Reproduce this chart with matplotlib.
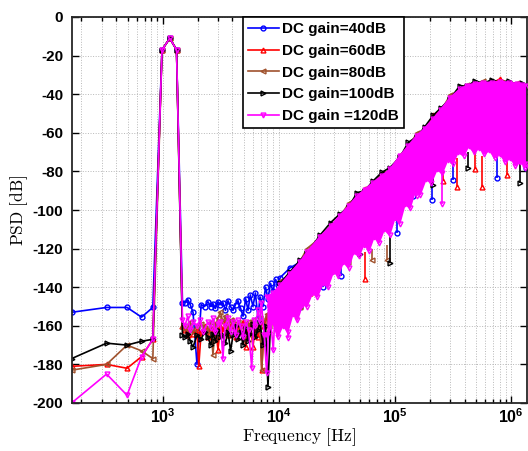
import numpy as np
import matplotlib
matplotlib.use('Agg')
import matplotlib.pyplot as plt

# FFT bins below 1.5 kHz (bin spacing ~165 Hz), signal tone at bin 7
f_low = [165, 330, 495, 660, 825, 990, 1155, 1320, 1485]
blue_low = [-153, -150.5, -150.5, -155.5, -150.5, -17, -11, -17, -148]
red_low = [-181, -180, -182, -176, -167, -17, -11, -17, -160]
brown_low = [-183, -180, -170, -173, -177, -17, -11, -17, -161]
black_low = [-177, -169, -170, -168, -167, -17, -11, -17, -165]
mag_low = [-200, -185, -196, -176, -167, -17, -11, -17, -157]

# 1.5k - 10k noise floor
blue_mid_f = [1560, 1650, 1730, 1830, 1980, 2150, 2300, 2460, 2600, 2715, 2850, 3000, 3150, 3310, 3480, 3660,
              3850, 4040, 4250, 4460, 4700, 4930, 5200, 5440, 5700, 6000, 6300, 6630, 6900, 7320, 7700, 8080,
              8500, 8920, 9400, 9850]
blue_mid = [-148, -146.5, -149, -153, -180, -149, -150, -147.5, -150, -148.5, -151, -147.5, -149, -148, -152, -147,
            -150, -152, -149, -147, -151, -155, -146, -152, -144, -150, -143, -156, -145, -150, -140, -146,
            -138, -142, -136, -139]
red_mid_f = [1560, 1650, 1730, 1830, 1980, 2050, 2150, 2300, 2460, 2600, 2715, 2850, 3000, 3150, 3310, 3480,
             3660, 3850, 4040, 4250, 4460, 4700, 4930, 5200, 5440, 5700, 6000, 6300, 6630, 6900, 7140, 7500,
             7900, 8300, 8920, 9400, 9850]
red_mid = [-162, -165, -160, -164, -162, -181, -163, -160, -166, -161, -164, -159, -172.5, -160, -163, -158,
           -165, -160, -157, -166, -160, -163, -158, -171, -162, -159, -171, -160, -166, -158, -183, -160,
           -155, -162, -152, -156, -148]
brown_mid_f = [1560, 1650, 1730, 1830, 1980, 2150, 2300, 2460, 2600, 2715, 2850, 3000, 3150, 3310, 3480, 3660,
               3850, 4040, 4250, 4460, 4700, 4930, 5200, 5440, 5700, 6000, 6300, 6630, 6900, 7140, 7500, 7900,
               8300, 8920, 9400, 9850]
brown_mid = [-160, -162, -158, -163, -160, -159, -161, -164, -158, -175, -160, -156, -153, -158, -155, -162,
             -157, -160, -164, -158, -162, -167, -160, -158, -165, -157, -162, -160, -156, -183, -158, -154,
             -160, -150, -155, -146]
black_mid_f = [1560, 1650, 1730, 1830, 1980, 2150, 2300, 2460, 2600, 2715, 2850, 3000, 3150, 3310, 3480, 3660,
               3850, 4040, 4250, 4460, 4700, 4930, 5200, 5440, 5700, 6000, 6300, 6630, 6900, 7320, 7700, 8080,
               8500, 8920, 9400, 9850]
black_mid = [-166, -164, -168, -171, -165, -167, -163, -166, -170, -164, -168, -162, -166, -165, -169, -163,
             -173, -165, -160, -167, -163, -170, -161, -168, -164, -159, -166, -162, -158, -170, -160, -191.5,
             -158, -152, -156, -146]
mag_mid_f = [1560, 1650, 1730, 1830, 1980, 2100, 2250, 2460, 2600, 2715, 2850, 3000, 3150, 3310, 3450, 3660,
             3850, 4040, 4250, 4460, 4700, 4930, 5200, 5500, 5860, 6100, 6300, 6630, 6900, 7100, 7500, 7880,
             8300, 8980, 9400, 9850]
mag_mid = [-160, -155, -162, -158, -160, -157, -163, -158, -161, -156, -163, -159, -158, -177, -160, -156,
           -163, -158, -165, -157, -160, -166, -158, -162, -182, -157, -160, -152, -158, -148, -165, -184.6,
           -150, -172.5, -146, -160]

# upper edge of the shaped-noise band
band_f = [1.03e4, 1.25e4, 1.53e4, 1.75e4, 2.27e4, 2.8e4, 3.37e4, 4.0e4, 4.72e4, 5.5e4, 6.48e4, 7.7e4, 9.08e4,
          1.11e5, 1.3e5, 1.55e5, 1.8e5, 2.13e5, 2.5e5, 2.98e5, 3.63e5, 4.17e5, 4.9e5, 5.73e5, 6.8e5, 8.02e5,
          9.5e5, 1.12e6, 1.25e6, 1.40e6]
blue_top = [-135, -130, -127, -123, -115, -109.5, -104, -99, -94, -90, -87, -83, -80, -73, -68, -62.5, -59, -54,
            -49, -43, -38.5, -36.5, -35.5, -35, -35, -34.5, -35, -35.5, -36, -36.5]
red_top = [-140, -134, -128, -122.5, -115, -109, -103.5, -98.5, -93.5, -89, -86.5, -83, -79.5, -72.5, -67.5, -62,
           -58.5, -51, -48.5, -42.5, -38, -36, -35, -34.5, -34.5, -32, -34.5, -35, -35.5, -36]
brown_top = [-137, -134, -126.5, -120, -114.5, -108, -103.5, -96.5, -93.5, -89, -86.5, -81, -79.5, -71.5, -67.5,
             -60, -58.5, -52.5, -48.5, -40.5, -38, -35, -35, -33, -34.5, -33.5, -34.5, -34, -35.5, -35]
black_top = [-138, -132, -126, -122.5, -113, -106.5, -102, -98.5, -91, -90, -85, -80.5, -78, -72.5, -65, -62, -57,
             -51, -47, -42.5, -35.5, -36, -33, -34.5, -32.5, -34, -33, -35, -34, -36]
mag_top_f = [8.0e3, 9.0e3, 1.03e4, 1.25e4, 1.53e4, 1.75e4, 2.27e4, 2.8e4, 3.37e4, 4.0e4, 4.72e4, 5.5e4, 6.48e4,
             7.7e4, 9.08e4, 1.11e5, 1.3e5, 1.55e5, 1.8e5, 2.13e5, 2.5e5, 2.98e5, 3.63e5, 4.17e5, 4.9e5, 5.73e5,
             6.8e5, 8.02e5, 9.5e5, 1.12e6, 1.25e6, 1.40e6]
mag_top = [-145, -143, -139, -133, -127, -122, -114, -108.5, -103, -98, -93, -89.5, -86, -82.5, -79, -72, -67,
           -61.5, -58, -53, -48, -42, -37.5, -35.5, -34.5, -34, -34, -33.5, -34, -34.5, -35, -35.5]
# lower edge of the magenta band
mag_bot_f = [8.0e3, 8.9e3, 9.8e3, 1.08e4, 1.2e4, 1.32e4, 1.45e4, 1.6e4, 1.75e4, 1.95e4, 2.15e4, 2.4e4, 2.65e4,
             2.95e4, 3.25e4, 3.6e4, 4.0e4, 4.4e4, 4.9e4, 5.4e4, 6.0e4, 6.6e4, 7.3e4, 8.1e4, 9.0e4, 1.0e5, 1.1e5,
             1.22e5, 1.35e5, 1.5e5, 1.65e5, 1.85e5, 2.05e5, 2.3e5, 2.55e5, 2.85e5, 3.15e5, 3.5e5, 3.9e5, 4.3e5,
             4.8e5, 5.3e5, 5.9e5, 6.5e5, 7.2e5, 8.0e5, 8.9e5, 9.8e5, 1.09e6, 1.2e6, 1.32e6, 1.40e6]
mag_bot = [-165, -158, -166, -160, -163, -154, -157, -149, -150, -143, -145, -138, -140, -132, -134, -127, -130,
           -122, -124, -118, -121, -114, -117, -110, -113, -104, -107, -97, -99, -90, -92, -84, -86, -79, -81,
           -74, -76, -70, -72, -67, -70, -68, -71, -69, -73, -71, -75, -73, -77, -75, -78, -76]

# downward spikes below the band
blue_spk_f = [1.52e4, 2.4e4, 3.43e4, 1.04e5, 1.43e5, 2.07e5, 3.17e5, 7.5e5, 1.35e6]
blue_spk_hi = [-140, -132, -125, -100, -85, -80, -72, -72, -74]
blue_spk_lo = [-150, -140, -134, -112, -93, -95, -84.5, -83.5, -78]
red_spk_f = [1.86e4, 5.53e4, 2.6e5, 3.4e5, 4.89e5, 5.58e5, 9.16e5]
red_spk_hi = [-138, -122, -76, -73, -68, -72, -72]
red_spk_lo = [-143, -136, -85, -88, -79, -88, -82]
brown_spk_f = [1.53e4, 3.95e4, 6.3e4, 8.55e4]
brown_spk_hi = [-143, -120, -120, -118]
brown_spk_lo = [-150, -127, -126, -126]
black_spk_f = [1.43e4, 5.0e4, 9.08e4, 2.13e5, 4.26e5, 1.19e6]
black_spk_hi = [-135, -115, -114, -78, -70, -76]
black_spk_lo = [-143, -123, -127.5, -87, -78, -86]
mag_spk_f = [1.21e4, 1.54e5, 2.53e5]
mag_spk_hi = [-160, -85, -78]
mag_spk_lo = [-166.5, -93, -97]

labels = ['DC gain=40dB', 'DC gain=60dB', 'DC gain=80dB', 'DC gain=100dB', 'DC gain =120dB']
colors = ['#0000ff', '#ff0000', '#a0522d', '#000000', '#ff00ff']
markers = ['o', '^', '<', '>', 'v']

y_ticks = [-200, -180, -160, -140, -120, -100, -80, -60, -40, -20, 0]
x_ticks = [1e3, 1e4, 1e5, 1e6]
x_ticklabels = [r'$\mathbf{10^{3}}$', r'$\mathbf{10^{4}}$', r'$\mathbf{10^{5}}$', r'$\mathbf{10^{6}}$']

plt.rcParams['font.family'] = ['Liberation Sans', 'DejaVu Sans']
plt.rcParams['axes.unicode_minus'] = False
plt.rcParams['mathtext.fontset'] = 'custom'
plt.rcParams['mathtext.bf'] = 'Liberation Sans:bold'
plt.rcParams['mathtext.rm'] = 'Liberation Sans'

fig = plt.figure(figsize=(5.28, 4.51), dpi=100)
ax = fig.add_axes([71.6 / 528, 1 - 403 / 451, (527 - 71.6) / 528, 386 / 451])
ax.set_axisbelow(True)

lw, ms = 1.2, 3.5

others = [
    (f_low + blue_mid_f + band_f, blue_low + blue_mid + blue_top, blue_spk_f, blue_spk_hi, blue_spk_lo),
    (f_low + red_mid_f + band_f, red_low + red_mid + red_top, red_spk_f, red_spk_hi, red_spk_lo),
    (f_low + brown_mid_f + band_f, brown_low + brown_mid + brown_top, brown_spk_f, brown_spk_hi, brown_spk_lo),
    (f_low + black_mid_f + band_f, black_low + black_mid + black_top, black_spk_f, black_spk_hi, black_spk_lo),
]

handles = []
for i, (fx, py, sf, shi, slo) in enumerate(others):
    c, m = colors[i], markers[i]
    h, = ax.plot(fx, py, color=c, lw=lw, marker=m, ms=ms, mfc='none', mew=1.0, label=labels[i])
    ax.vlines(sf, slo, shi, color=c, lw=lw)
    ax.plot(sf, slo, ls='none', marker=m, ms=ms, mfc='none', mew=1.0, color=c)
    handles.append(h)

# magenta on top
c, m = colors[4], markers[4]
h, = ax.plot(f_low + mag_mid_f, mag_low + mag_mid, color=c, lw=lw, marker=m, ms=ms, mfc='none', mew=1.0,
             label=labels[4])
handles.append(h)
ax.vlines(mag_spk_f, mag_spk_lo, mag_spk_hi, color=c, lw=lw)
ax.plot(mag_spk_f, mag_spk_lo, ls='none', marker=m, ms=ms, mfc='none', mew=1.0, color=c)
ax.fill(mag_top_f + mag_bot_f[::-1], mag_top + mag_bot[::-1], color=c, lw=0, zorder=2.5)
ax.plot(mag_bot_f, mag_bot, color=c, lw=lw, marker=m, ms=ms, mfc='none', mew=1.0, zorder=2.6)
ax.plot(mag_top_f, mag_top, color=c, lw=1.6, marker=m, ms=ms, mfc='none', mew=1.0, zorder=2.6)

ax.set_xscale('log')
ax.set_xlim(165, 1.37e6)
ax.set_ylim(-200, 0)
ax.set_yticks(y_ticks)
ax.set_yticklabels([str(v) for v in y_ticks], fontsize=11, fontweight='bold')
ax.set_xticks(x_ticks)
ax.set_xticklabels(x_ticklabels, fontsize=11.5)

ax.grid(True, which='major', ls=':', color='#b8b8b8', lw=0.7)
ax.grid(True, which='minor', axis='x', ls=':', color='#b8b8b8', lw=0.7)
ax.tick_params(which='both', direction='in', top=True, right=True, width=1.0)
ax.tick_params(which='major', length=5)
ax.tick_params(axis='y', pad=6)
ax.tick_params(axis='x', pad=3)
ax.tick_params(which='minor', length=3)
for s in ax.spines.values():
    s.set_linewidth(1.3)
    s.set_color('#262626')

ax.set_xlabel(r'$\mathrm{Frequency\ [Hz]}$', fontsize=12.5, math_fontfamily='cm', labelpad=0)
ax.set_ylabel(r'$\mathrm{PSD\ [dB]}$', fontsize=12.5, math_fontfamily='cm', labelpad=2)

leg = ax.legend(handles=handles, loc='upper left', bbox_to_anchor=(0.376, 1.0), borderaxespad=0,
                prop={'weight': 'bold', 'size': 11}, fancybox=False, framealpha=1, edgecolor='black',
                handlelength=2.0, handletextpad=0.2, labelspacing=0.5, borderpad=0.35)
leg.get_frame().set_linewidth(1.2)
leg.set_zorder(5)

fig.savefig('out.png', dpi=100)
